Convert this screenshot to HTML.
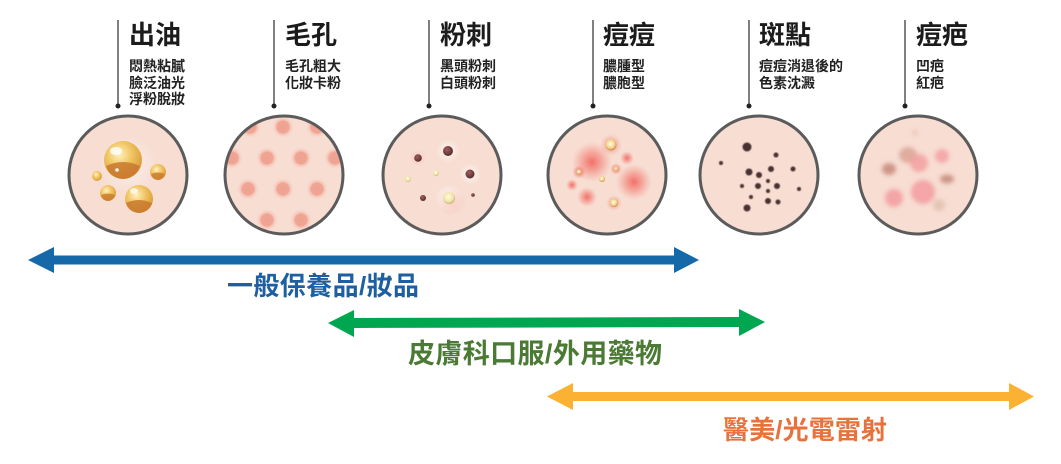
<!DOCTYPE html>
<html><head><meta charset="utf-8"><style>
html,body{margin:0;padding:0;background:#fff;}
svg{display:block;}
text{font-family:"Liberation Sans","Noto Sans CJK TC","Noto Sans CJK SC",sans-serif;}
.t{font-size:26px;font-weight:bold;fill:#1b1b1b;}
.s{font-size:14px;font-weight:bold;fill:#222;}
</style></head><body>
<svg width="1061" height="464" viewBox="0 0 1061 464" xmlns="http://www.w3.org/2000/svg">
<defs>
  <radialGradient id="gold" cx="0.4" cy="0.35" r="0.7">
    <stop offset="0" stop-color="#fff1c0"/>
    <stop offset="0.45" stop-color="#f1c766"/>
    <stop offset="1" stop-color="#d99633"/>
  </radialGradient>
  <radialGradient id="pore" cx="0.5" cy="0.5" r="0.5">
    <stop offset="0" stop-color="#eea190"/>
    <stop offset="0.55" stop-color="#f0a594"/>
    <stop offset="0.62" stop-color="#f5bcad"/>
    <stop offset="1" stop-color="#f7d8cc" stop-opacity="0"/>
  </radialGradient>
  <radialGradient id="dark" cx="0.4" cy="0.35" r="0.65">
    <stop offset="0" stop-color="#a06060"/>
    <stop offset="1" stop-color="#5a2c2c"/>
  </radialGradient>
  <radialGradient id="light" cx="0.45" cy="0.4" r="0.6">
    <stop offset="0" stop-color="#fffbe0"/>
    <stop offset="0.7" stop-color="#efe2a8"/>
    <stop offset="1" stop-color="#c9ae70"/>
  </radialGradient>
  <radialGradient id="halo" cx="0.5" cy="0.5" r="0.5">
    <stop offset="0" stop-color="#ffffff" stop-opacity="0.8"/>
    <stop offset="1" stop-color="#ffffff" stop-opacity="0"/>
  </radialGradient>
  <radialGradient id="phalo" cx="0.5" cy="0.5" r="0.5">
    <stop offset="0" stop-color="#f6b0a8" stop-opacity="0.8"/>
    <stop offset="1" stop-color="#f6b0a8" stop-opacity="0"/>
  </radialGradient>
  <radialGradient id="red" cx="0.5" cy="0.5" r="0.5">
    <stop offset="0" stop-color="#f04a44" stop-opacity="0.75"/>
    <stop offset="0.5" stop-color="#f36a60" stop-opacity="0.45"/>
    <stop offset="1" stop-color="#f58a80" stop-opacity="0"/>
  </radialGradient>
  <radialGradient id="pus" cx="0.45" cy="0.4" r="0.6">
    <stop offset="0" stop-color="#fffbe0"/>
    <stop offset="0.6" stop-color="#f3d890"/>
    <stop offset="1" stop-color="#c98a4a"/>
  </radialGradient>
  <filter id="b1" x="-50%" y="-50%" width="200%" height="200%"><feGaussianBlur stdDeviation="0.6"/></filter>
  <filter id="b3" x="-50%" y="-50%" width="200%" height="200%"><feGaussianBlur stdDeviation="2.2"/></filter>
  <clipPath id="c2"><circle cx="284" cy="175" r="59"/></clipPath>
</defs>

<!-- vertical pointer lines -->
<g stroke="#555" stroke-width="1.5">
  <line x1="118" y1="20" x2="118" y2="106"/>
  <line x1="274" y1="20" x2="274" y2="106"/>
  <line x1="429" y1="20" x2="429" y2="106"/>
  <line x1="593" y1="20" x2="593" y2="106"/>
  <line x1="749" y1="20" x2="749" y2="106"/>
  <line x1="905" y1="20" x2="905" y2="106"/>
</g>
<g fill="#222">
  <circle cx="118" cy="106" r="2.5"/><circle cx="274" cy="106" r="2.5"/>
  <circle cx="429" cy="106" r="2.5"/><circle cx="593" cy="106" r="2.5"/>
  <circle cx="749" cy="106" r="2.5"/><circle cx="905" cy="106" r="2.5"/>
</g>

<!-- titles -->
<text class="t" x="129" y="44">出油</text>
<text class="s" x="129" y="71">悶熱粘膩</text>
<text class="s" x="129" y="88">臉泛油光</text>
<text class="s" x="129" y="104">浮粉脫妝</text>

<text class="t" x="285" y="44">毛孔</text>
<text class="s" x="285" y="71">毛孔粗大</text>
<text class="s" x="285" y="88">化妝卡粉</text>

<text class="t" x="440" y="44">粉刺</text>
<text class="s" x="440" y="71">黑頭粉刺</text>
<text class="s" x="440" y="88">白頭粉刺</text>

<text class="t" x="603" y="44">痘痘</text>
<text class="s" x="603" y="71">膿腫型</text>
<text class="s" x="603" y="88">膿胞型</text>

<text class="t" x="759" y="44">斑點</text>
<text class="s" x="759" y="71">痘痘消退後的</text>
<text class="s" x="759" y="88">色素沈澱</text>

<text class="t" x="916" y="44">痘疤</text>
<text class="s" x="916" y="71">凹疤</text>
<text class="s" x="916" y="88">紅疤</text>

<!-- circle fills -->
<g fill="#f7ddd2">
  <circle cx="128" cy="175" r="59"/>
  <circle cx="284" cy="175" r="59"/>
  <circle cx="442" cy="175" r="59"/>
  <circle cx="607" cy="175" r="59"/>
  <circle cx="759" cy="175" r="59"/>
  <circle cx="918" cy="175" r="59"/>
</g>

<!-- circle 1 oil -->
<circle cx="128" cy="165" r="30" fill="url(#halo)" opacity="0.7"/>
<g>
  <circle cx="123" cy="160" r="19" fill="url(#gold)"/>
  <path d="M106,166 Q123,158 140,166 Q136,178 123,179 Q110,178 106,166Z" fill="#c9782e" opacity="0.85"/>
  <ellipse cx="116" cy="151" rx="6" ry="4" fill="#fff" opacity="0.8"/>
  <circle cx="117" cy="170" r="1.8" fill="#fff" opacity="0.9"/>
  <circle cx="97" cy="176" r="5" fill="url(#gold)"/>
  <circle cx="158" cy="172" r="8" fill="url(#gold)"/>
  <path d="M151,174 Q158,171 165,174 Q162,180 158,180 Q153,180 151,174Z" fill="#c9782e" opacity="0.8"/>
  <circle cx="108" cy="193" r="8" fill="url(#gold)"/>
  <path d="M101,195 Q108,192 115,195 Q112,201 108,201 Q103,201 101,195Z" fill="#c9782e" opacity="0.8"/>
  <circle cx="139" cy="199" r="14" fill="url(#gold)"/>
  <path d="M126,203 Q139,197 152,203 Q149,212 139,213 Q129,212 126,203Z" fill="#c9782e" opacity="0.85"/>
  <ellipse cx="134" cy="191" rx="4" ry="3" fill="#fff" opacity="0.7"/>
</g>

<!-- circle 2 pores -->
<g clip-path="url(#c2)">
  <g fill="url(#pore)">
    <circle cx="283" cy="127" r="11"/><circle cx="250" cy="127" r="11"/><circle cx="317" cy="127" r="11"/>
    <circle cx="232" cy="158" r="11"/><circle cx="267" cy="158" r="11"/><circle cx="301" cy="158" r="11"/><circle cx="335" cy="158" r="11"/>
    <circle cx="248" cy="189" r="11"/><circle cx="283" cy="189" r="11"/><circle cx="317" cy="189" r="11"/>
    <circle cx="267" cy="220" r="11"/><circle cx="301" cy="220" r="11"/>
  </g>
</g>

<!-- circle 3 comedones -->
<circle cx="448" cy="151" r="12" fill="url(#halo)"/>
<circle cx="470" cy="174" r="11" fill="url(#halo)"/>
<circle cx="449" cy="198" r="14" fill="url(#halo)"/>
<circle cx="452" cy="202" r="14" fill="url(#phalo)" opacity="0.6"/>
<circle cx="418" cy="158" r="8" fill="url(#phalo)" opacity="0.6"/>
<circle cx="448" cy="151" r="5" fill="url(#dark)"/>
<circle cx="418" cy="158" r="3.8" fill="url(#dark)"/>
<circle cx="470" cy="174" r="4.5" fill="url(#dark)"/>
<circle cx="423" cy="198" r="3" fill="url(#dark)"/>
<circle cx="473" cy="195" r="1.8" fill="url(#dark)"/>
<circle cx="436" cy="173" r="3" fill="url(#light)"/>
<circle cx="408" cy="179" r="3" fill="url(#light)"/>
<circle cx="449" cy="198" r="6" fill="url(#light)"/>

<!-- circle 4 acne -->
<circle cx="592" cy="162" r="20" fill="url(#red)"/>
<circle cx="634" cy="182" r="18" fill="url(#red)"/>
<circle cx="627" cy="158" r="7" fill="url(#red)"/>
<circle cx="587" cy="197" r="10" fill="url(#red)"/>
<circle cx="572" cy="185" r="6" fill="url(#red)"/>
<circle cx="579" cy="172" r="7" fill="url(#red)"/>
<circle cx="616" cy="169" r="6" fill="url(#red)"/>
<circle cx="611" cy="145" r="11" fill="url(#red)" opacity="0.7"/>
<circle cx="614" cy="203" r="8" fill="url(#red)" opacity="0.7"/>
<circle cx="611" cy="145" r="5.5" fill="url(#pus)"/>
<circle cx="616" cy="169" r="2.5" fill="url(#pus)" opacity="0.8"/>
<circle cx="579" cy="172" r="2.5" fill="url(#pus)"/>
<circle cx="602" cy="179" r="3" fill="url(#pus)"/>
<circle cx="614" cy="203" r="4" fill="url(#pus)"/>

<!-- circle 5 spots -->
<g fill="#4a3330" filter="url(#b1)">
  <circle cx="747" cy="147" r="4.5"/>
  <circle cx="776" cy="155" r="2.5"/>
  <circle cx="721" cy="163" r="2"/>
  <circle cx="749" cy="172" r="3.5"/>
  <circle cx="759" cy="175" r="3"/>
  <circle cx="771" cy="169" r="3"/>
  <circle cx="793" cy="169" r="2.5"/>
  <circle cx="768" cy="181" r="2"/>
  <circle cx="742" cy="186" r="2"/>
  <circle cx="758" cy="186" r="3"/>
  <circle cx="777" cy="186" r="3"/>
  <circle cx="768" cy="191" r="2"/>
  <circle cx="751" cy="197" r="2"/>
  <circle cx="768" cy="201" r="3"/>
  <circle cx="778" cy="202" r="2.5"/>
  <circle cx="799" cy="189" r="2"/>
  <circle cx="747" cy="208" r="3.5"/>
</g>

<!-- circle 6 scars -->
<g filter="url(#b3)">
  <circle cx="915" cy="133" r="3" fill="#efc8b8"/>
  <ellipse cx="908" cy="155" rx="9" ry="8" fill="#d9a090" opacity="0.8"/>
  <circle cx="919" cy="163" r="9" fill="#f2a0a0" opacity="0.85"/>
  <circle cx="942" cy="156" r="7" fill="#f4a4a6" opacity="0.9"/>
  <ellipse cx="889" cy="169" rx="7" ry="6" fill="#c98e80" opacity="0.9"/>
  <ellipse cx="947" cy="179" rx="7" ry="4.5" fill="#c98e80" opacity="0.9"/>
  <circle cx="923" cy="192" r="12" fill="#f4a0a2" opacity="0.9"/>
  <circle cx="894" cy="198" r="9" fill="#f4a0a2" opacity="0.9"/>
  <circle cx="939" cy="205" r="6" fill="#e0bfae" opacity="0.8"/>
</g>

<!-- circle borders -->
<g fill="none" stroke="#5b5b5b" stroke-width="3">
  <circle cx="128" cy="175" r="59"/>
  <circle cx="284" cy="175" r="59"/>
  <circle cx="442" cy="175" r="59"/>
  <circle cx="607" cy="175" r="59"/>
  <circle cx="759" cy="175" r="59"/>
  <circle cx="918" cy="175" r="59"/>
</g>

<!-- arrows -->
<g fill="#1569a9">
  <rect x="52" y="255.5" width="624" height="9"/>
  <polygon points="28,260 54,247 54,273"/>
  <polygon points="699,260 674,247 674,273"/>
</g>
<g fill="#00a650">
  <polygon points="352,318 741,317 741,327 352,328"/>
  <polygon points="328,323 354,310 354,337"/>
  <polygon points="765,322 739,309 739,336"/>
</g>
<g fill="#fbb131">
  <rect x="571" y="392" width="440" height="9"/>
  <polygon points="547,396.5 573,383 573,410"/>
  <polygon points="1034,396.5 1009,383 1009,410"/>
</g>

<!-- range labels -->
<text x="227" y="295" font-size="26" font-weight="bold" fill="#1d5fa0" textLength="192">一般保養品/妝品</text>
<text x="408" y="363" font-size="27" font-weight="bold" fill="#4b7a34" textLength="254">皮膚科口服/外用藥物</text>
<text x="723" y="439" font-size="26" font-weight="bold" fill="#e8723b" textLength="164">醫美/光電雷射</text>
</svg>
</body></html>
